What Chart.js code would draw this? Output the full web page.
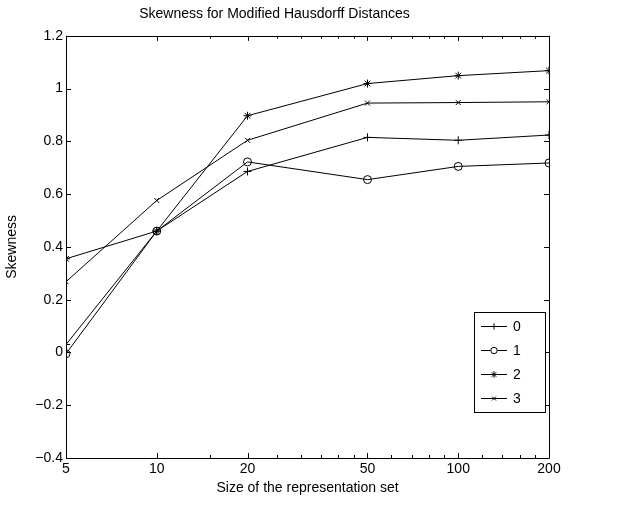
<!DOCTYPE html>
<html>
<head>
<meta charset="utf-8">
<script src="https://cdn.jsdelivr.net/npm/chart.js@4"></script>
<style>
  html, body { margin: 0; padding: 0; background: #fff; }
  #wrap { width: 621px; height: 506px; }
</style>
</head>
<body>
<div id="wrap"><canvas id="skewChart" width="621" height="506"></canvas></div>
<script>
// representation set sizes (log x axis)
const setSizes = [5, 10, 20, 50, 100, 200];
const xTickValues = [5, 10, 20, 50, 100, 200];
const xMinorTicks = [15, 25, 30, 35, 40, 45, 60, 70, 80, 90, 120, 140, 160, 180];
const yTickValues = [-0.4, -0.2, 0, 0.2, 0.4, 0.6, 0.8, 1, 1.2];

const seriesLabels = ['0', '1', '2', '3'];
const series0 = [0.03, 0.46, 0.686, 0.815, 0.804, 0.824];
const series1 = [-0.005, 0.46, 0.722, 0.655, 0.705, 0.718];
const series2 = [0.355, 0.46, 0.897, 1.019, 1.049, 1.068];
const series3 = [0.268, 0.576, 0.804, 0.945, 0.947, 0.95];

const markerStyles = ['cross', 'circle', 'star', 'crossRot'];
const markerSizes = [4, 4, 4, 3.5];

const allSeries = [series0, series1, series2, series3];

const datasets = allSeries.map((vals, i) => ({
    label: seriesLabels[i],
    data: vals.map((v, j) => ({ x: setSizes[j], y: v })),
    borderColor: '#000',
    borderWidth: 1,
    pointStyle: markerStyles[i],
    pointRadius: markerSizes[i],
    pointBorderColor: '#000',
    pointBackgroundColor: 'rgba(0,0,0,0)',
    pointBorderWidth: 1,
    fill: false,
    tension: 0
}));

// frame, inward tick marks and the legend box, matlab style
const framePlugin = {
    id: 'frame',
    afterDraw(chart) {
        const ctx = chart.ctx;
        const a = chart.chartArea;
        const xs = chart.scales.x, ys = chart.scales.y;
        ctx.save();
        ctx.strokeStyle = '#000';
        ctx.lineWidth = 1;
        ctx.beginPath();
        ctx.rect(Math.round(a.left) + 0.5, Math.round(a.top) + 0.5,
                 Math.round(a.right - a.left), Math.round(a.bottom - a.top));
        ctx.stroke();

        ctx.beginPath();
        xTickValues.forEach(v => {
            const px = Math.round(xs.getPixelForValue(v)) + 0.5;
            ctx.moveTo(px, a.bottom); ctx.lineTo(px, a.bottom - 5);
            ctx.moveTo(px, a.top); ctx.lineTo(px, a.top + 5);
        });
        xMinorTicks.forEach(v => {
            const px = Math.round(xs.getPixelForValue(v)) + 0.5;
            ctx.moveTo(px, a.bottom); ctx.lineTo(px, a.bottom - 3);
            ctx.moveTo(px, a.top); ctx.lineTo(px, a.top + 3);
        });
        yTickValues.forEach(v => {
            const py = Math.round(ys.getPixelForValue(v)) + 0.5;
            ctx.moveTo(a.left, py); ctx.lineTo(a.left + 5, py);
            ctx.moveTo(a.right, py); ctx.lineTo(a.right - 5, py);
        });
        ctx.stroke();

        // legend
        const bx = 474.5, by = 312.5, bw = 71, bh = 100;
        ctx.fillStyle = '#fff';
        ctx.fillRect(bx, by, bw, bh);
        ctx.strokeRect(bx, by, bw, bh);
        ctx.font = '14px "Liberation Sans", Arial, sans-serif';
        ctx.textBaseline = 'middle';
        chart.data.datasets.forEach((ds, i) => {
            const ry = Math.round(by + 13 + i * 24.3) + 0.5;
            ctx.beginPath();
            ctx.moveTo(481, ry); ctx.lineTo(507, ry);
            ctx.stroke();
            ctx.fillStyle = '#fff';
            Chart.helpers.drawPoint(ctx, {
                pointStyle: ds.pointStyle,
                radius: ds.pointRadius * 0.8,
                borderWidth: 1,
                rotation: 0
            }, 494, ry);
            ctx.fillStyle = '#000';
            ctx.fillText(ds.label, 513, ry + 1);
        });
        ctx.restore();
    }
};

const tickFont = { size: 14, family: '"Liberation Sans", Arial, sans-serif' };

new Chart(document.getElementById('skewChart').getContext('2d'), {
    type: 'line',
    data: { datasets: datasets },
    options: {
        responsive: false,
        animation: false,
        devicePixelRatio: 1,
        layout: { padding: { top: 0, right: 72, bottom: 0, left: 0 } },
        plugins: {
            legend: { display: false },
            tooltip: { enabled: false },
            title: {
                display: true,
                text: 'Skewness for Modified Hausdorff Distances',
                color: '#000',
                font: { size: 14, weight: 'normal', family: '"Liberation Sans", Arial, sans-serif' },
                padding: { top: 6, bottom: 13 }
            }
        },
        scales: {
            x: {
                type: 'logarithmic',
                min: 5,
                max: 200,
                afterBuildTicks: scale => {
                    scale.ticks = xTickValues.map(v => ({ value: v }));
                },
                afterFit: scale => { scale.height = 48; },
                grid: { display: false, drawTicks: false },
                border: { display: false },
                ticks: {
                    color: '#000',
                    font: tickFont,
                    padding: 3,
                    maxRotation: 0,
                    autoSkip: false,
                    callback: v => String(v)
                },
                title: {
                    display: true,
                    text: 'Size of the representation set',
                    color: '#000',
                    font: tickFont,
                    padding: { top: 0, bottom: 9 }
                }
            },
            y: {
                min: -0.4,
                max: 1.2,
                afterBuildTicks: scale => {
                    scale.ticks = yTickValues.map(v => ({ value: v }));
                },
                afterFit: scale => { scale.width = 66; },
                grid: { display: false, drawTicks: false },
                border: { display: false },
                ticks: {
                    color: '#000',
                    font: tickFont,
                    padding: 3,
                    callback: v => {
                        const r = Math.round(v * 10) / 10;
                        return r < 0 ? '\u2212' + String(-r) : String(r);
                    }
                },
                title: {
                    display: true,
                    text: 'Skewness',
                    color: '#000',
                    font: tickFont,
                    padding: { top: 4, bottom: 0 }
                }
            }
        }
    },
    plugins: [framePlugin]
});
</script>
</body>
</html>
